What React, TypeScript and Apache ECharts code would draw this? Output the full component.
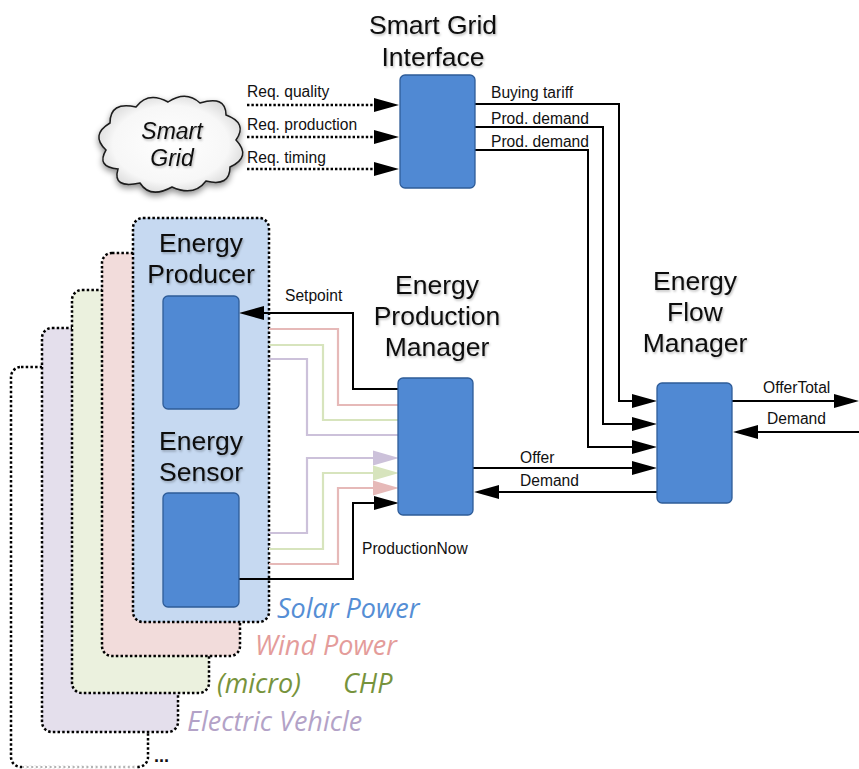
import React, { useEffect, useRef } from "react";
import * as echarts from "echarts";

// ---- texts of the diagram ----
const sgiTitle = ["Smart Grid", "Interface"];
const epmTitle = ["Energy", "Production", "Manager"];
const efmTitle = ["Energy", "Flow", "Manager"];
const producerTitle = ["Energy", "Producer"];
const sensorTitle = ["Energy", "Sensor"];
const cloudTitle = ["Smart", "Grid"];
const reqLabels = ["Req. quality", "Req. production", "Req. timing"];
const sgiOutLabels = ["Buying tariff", "Prod. demand", "Prod. demand"];
const epmLabels = ["Offer", "Demand"];
const efmLabels = ["OfferTotal", "Demand"];
const setpointLabel = "Setpoint";
const productionNowLabel = "ProductionNow";
const sourceLabels = ["Solar Power", "Wind Power", "(micro)", "CHP", "Electric Vehicle"];
const sourceColors = ["#558ED5", "#E49C9A", "#77933C", "#77933C", "#B3A2C7"];

const CLOUD_D =
  "M 8 55 Q -8 40 12 28 Q 12 6 38 12 Q 50 -4 70 7 Q 88 -5 102 8 Q 128 0 128 20 Q 150 28 138 45 Q 154 62 132 72 Q 132 92 108 86 Q 96 102 74 92 Q 52 104 42 88 Q 14 94 20 74 Q -2 72 8 55 Z";

const FONT = "Liberation Sans, Arial, sans-serif";
const BOX_FILL = "#5089D3";
const BOX_STROKE = "#2E5C98";
const PINK = "#E6B9B8";
const GREEN = "#D7E4BD";
const PURPLE = "#CCC1DA";
const LABEL = 15.6;
const TITLE = 26.5;

let registered = false;

function buildElements(): any[] {
  const els: any[] = [];
  const poly = (points: number[][], stroke: string, lineWidth = 2, lineDash?: number[]) => {
    els.push({
      type: "polyline",
      shape: { points },
      style: { stroke, lineWidth, fill: null, lineDash: lineDash || null, lineJoin: "miter" },
    });
  };
  const head = (x: number, y: number, dir: "right" | "left", fill: string, len = 25, hw = 7) => {
    const bx = dir === "right" ? x - len : x + len;
    els.push({
      type: "polygon",
      shape: { points: [[x, y], [bx, y - hw], [bx, y + hw]] },
      style: { fill, stroke: null },
    });
  };
  const text = (t: string, x: number, y: number, size: number, opts: any = {}) => {
    els.push({
      type: "text",
      x,
      y,
      style: {
        text: t,
        fill: opts.fill || "#111",
        fontSize: size,
        fontFamily: opts.family || FONT,
        fontStyle: opts.italic ? "italic" : "normal",
        fontWeight: opts.bold ? "bold" : "normal",
        textAlign: opts.align || "left",
        textVerticalAlign: "middle",
        textShadowColor: opts.shadow ? "rgba(0,0,0,0.28)" : "transparent",
        textShadowBlur: opts.shadow ? 2 : 0,
        textShadowOffsetX: opts.shadow ? 1 : 0,
        textShadowOffsetY: opts.shadow ? 1.5 : 0,
      },
    });
  };
  const box = (x: number, y: number, w: number, h: number) => {
    els.push({
      type: "rect",
      shape: { x, y, width: w, height: h, r: 5 },
      style: { fill: BOX_FILL, stroke: BOX_STROKE, lineWidth: 1.3 },
    });
  };
  const container = (x1: number, y1: number, x2: number, y2: number, fill: string) => {
    els.push({
      type: "rect",
      shape: { x: x1, y: y1, width: x2 - x1, height: y2 - y1, r: 10 },
      style: { fill, stroke: "#000", lineWidth: 2.5, lineDash: [2.5, 2.2] },
    });
  };

  // ---- stacked source containers (back to front) ----
  container(11, 367, 148, 767, "#FFFFFF");
  els.push({ type: "line", shape: { x1: 22, y1: 767, x2: 137, y2: 767 }, style: { stroke: "#fff", lineWidth: 3.5 } });
  els.push({ type: "line", shape: { x1: 22, y1: 767, x2: 137, y2: 767 }, style: { stroke: "#9a9a9a", lineWidth: 1.6, lineDash: [2, 2.6] } });
  container(42, 328, 178, 732, "#E4DFEC");
  container(72, 290, 209, 693, "#EBF1DE");
  container(102, 253, 240, 656, "#F2DCDB");
  container(133, 218, 269, 622, "#C6D9F1");

  // ---- cloud ----
  els.push({
    type: "cloudShape",
    x: 98,
    y: 95,
    style: {
      fill: {
        type: "radial",
        x: 0.5,
        y: 0.5,
        r: 0.62,
        colorStops: [
          { offset: 0, color: "#ffffff" },
          { offset: 0.65, color: "#f7f7f7" },
          { offset: 1, color: "#c9c9c9" },
        ],
      },
      stroke: "#1a1a1a",
      lineWidth: 1.5,
      shadowBlur: 6,
      shadowColor: "rgba(0,0,0,0.45)",
      shadowOffsetY: 3,
    },
  });
  text(cloudTitle[0], 172, 131, 23, { italic: true, align: "center", shadow: true });
  text(cloudTitle[1], 172, 158, 23, { italic: true, align: "center", shadow: true });

  // ---- requests (dotted) ----
  const reqY = [105, 137, 169];
  const reqLabelY = [91, 124, 157];
  reqY.forEach((y, i) => {
    poly([[247, y], [376, y]], "#000", 2.6, [2.4, 2]);
    head(399, y, "right", "#000");
    text(reqLabels[i], 247, reqLabelY[i], LABEL);
  });

  // ---- SGI outputs to EFM ----
  const sgiOutY = [104, 127, 150];
  const sgiOutX = [619, 603, 588];
  const efmInY = [401, 424, 447];
  const sgiLabelY = [92, 118, 141];
  sgiOutY.forEach((y, i) => {
    poly([[475, y], [sgiOutX[i], y], [sgiOutX[i], efmInY[i]], [636, efmInY[i]]], "#000", 2);
    head(657, efmInY[i], "right", "#000");
    text(sgiOutLabels[i], 491, sgiLabelY[i], LABEL);
  });

  // ---- EPM <-> EFM ----
  poly([[473, 468], [636, 468]], "#000", 2);
  head(657, 468, "right", "#000");
  text(epmLabels[0], 520, 457, LABEL);
  poly([[657, 492], [494, 492]], "#000", 2);
  head(474, 492, "left", "#000");
  text(epmLabels[1], 520, 480, LABEL);

  // ---- EFM <-> outside ----
  poly([[732, 401], [838, 401]], "#000", 2);
  head(859, 401, "right", "#000");
  text(efmLabels[0], 763, 387, LABEL);
  poly([[859, 432], [753, 432]], "#000", 2);
  head(733, 432, "left", "#000");
  text(efmLabels[1], 767, 418, LABEL);

  // ---- producer feedback (coloured) ----
  const prodColors = [PINK, GREEN, PURPLE];
  const prodY = [329, 345, 359];
  const turnX = [338, 323, 307];
  const prodInY = [405, 420, 435];
  prodColors.forEach((c, i) => {
    poly([[269, prodY[i]], [turnX[i], prodY[i]], [turnX[i], prodInY[i]], [398, prodInY[i]]], c, 2.2);
  });

  // ---- Setpoint ----
  poly([[398, 389], [353, 389], [353, 313], [260, 313]], "#000", 2);
  head(239, 313, "left", "#000");
  text(setpointLabel, 285, 295, LABEL);

  // ---- sensor measurements (coloured) ----
  const sensColors = [PURPLE, GREEN, PINK];
  const sensY = [533, 549, 564];
  const sensTurnX = [307, 323, 338];
  const sensInY = [458, 473, 488];
  sensColors.forEach((c, i) => {
    poly([[269, sensY[i]], [sensTurnX[i], sensY[i]], [sensTurnX[i], sensInY[i]], [378, sensInY[i]]], c, 2.2);
    head(399, sensInY[i], "right", c, 26, 7.5);
  });
  poly([[239, 579], [353, 579], [353, 503], [378, 503]], "#000", 2);
  head(399, 503, "right", "#000");
  text(productionNowLabel, 362, 548, LABEL);

  // ---- blocks ----
  box(400, 75, 75, 113);
  box(398, 378, 75, 137);
  box(657, 383, 75, 120);
  box(163, 296, 76, 113);
  box(163, 493, 76, 114);

  // ---- block titles ----
  [25, 57].forEach((y, i) => text(sgiTitle[i], 433, y, TITLE, { align: "center", shadow: true }));
  [285, 316, 347].forEach((y, i) => text(epmTitle[i], 437, y, TITLE, { align: "center", shadow: true }));
  [281, 312, 343].forEach((y, i) => text(efmTitle[i], 695, y, TITLE, { align: "center", shadow: true }));
  [243, 274].forEach((y, i) => text(producerTitle[i], 201, y, TITLE, { align: "center", shadow: true }));
  [441, 472].forEach((y, i) => text(sensorTitle[i], 201, y, TITLE, { align: "center", shadow: true }));

  // ---- source type labels ----
  const srcX = [277, 255, 217, 343, 187];
  const srcY = [607, 644, 682, 682, 720];
  sourceLabels.forEach((t, i) =>
    text(t, srcX[i], srcY[i], 27, { italic: true, fill: sourceColors[i], family: "Open Sans, Noto Sans, sans-serif" })
  );
  text("...", 154, 756, 18, { bold: true });

  return els;
}

export default function App() {
  const ref = useRef<HTMLDivElement>(null);
  useEffect(() => {
    if (!ref.current) return;
    if (!registered) {
      echarts.graphic.registerShape("cloudShape", echarts.graphic.extendPath(CLOUD_D, {}) as any);
      registered = true;
    }
    const chart = echarts.init(ref.current, null, { renderer: "svg" });
    chart.setOption({
      animation: false,
      backgroundColor: "#ffffff",
      graphic: { elements: buildElements() },
    });
    return () => chart.dispose();
  }, []);
  return (
    <div
      ref={ref}
      style={{ position: "fixed", left: 0, top: 0, width: 859, height: 769 }}
    />
  );
}
